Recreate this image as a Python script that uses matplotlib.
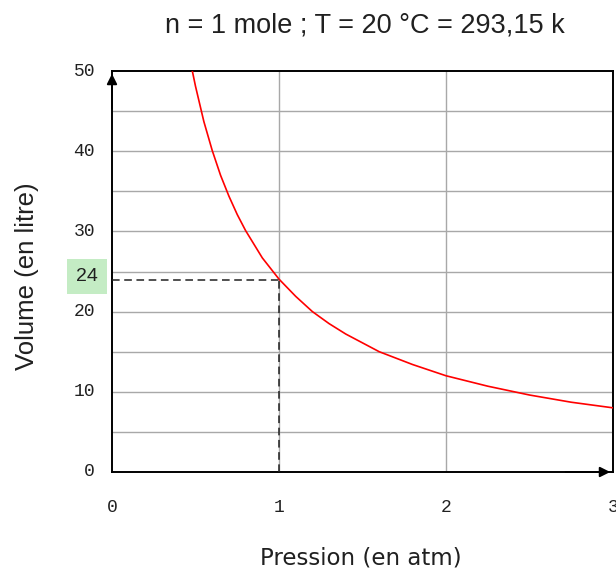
import matplotlib
matplotlib.use("Agg")
import matplotlib.pyplot as plt

# Data (V in litres vs P in atm)
pressure = [0.48, 0.5, 0.55, 0.6, 0.65, 0.7, 0.75, 0.8, 0.9, 1.0, 1.1, 1.2, 1.3, 1.4,
            1.6, 1.8, 2.0, 2.25, 2.5, 2.75, 3.0]
volume = [50.1, 48.1, 43.7, 40.1, 37.0, 34.4, 32.1, 30.1, 26.7, 24.05, 21.9, 20.0, 18.5,
          17.2, 15.0, 13.4, 12.0, 10.7, 9.6, 8.7, 8.0]
x_ticks = [0, 1, 2, 3]
y_ticks = [0, 10, 20, 30, 40, 50]
y_grid = [5, 10, 15, 20, 25, 30, 35, 40, 45]
marker_p = 1.0
marker_v = 24
title = "n = 1 mole ; T = 20 °C = 293,15 k"

W, H = 616, 574
fig = plt.figure(figsize=(W/100, H/100), dpi=100)
ax = fig.add_axes([112/W, 102/H, 501/W, 401/H])
ax.set_xlim(0, 3)
ax.set_ylim(0, 50)

for g in y_grid:
    ax.axhline(g, color="#a8a8a8", lw=1.0, zorder=1)
for g in x_ticks[1:-1]:
    ax.axvline(g, color="#a8a8a8", lw=1.0, zorder=1)

ax.plot(pressure, volume, color="#ff0000", lw=1.2, zorder=3)

ax.plot([0, marker_p], [marker_v, marker_v], color="#202020", lw=1.1,
        ls=(0, (5, 3)), zorder=4)
ax.plot([marker_p, marker_p], [0, marker_v], color="#202020", lw=1.1,
        ls=(0, (5, 3)), zorder=4)

for s in ax.spines.values():
    s.set_color("black")
    s.set_linewidth(1.4)

ax.set_xticks(x_ticks)
ax.set_yticks(y_ticks)
ax.tick_params(length=0, pad=0)
ax.set_xticklabels([])
ax.set_yticklabels([])
mono = "Liberation Mono"
for v in y_ticks:
    ax.text(-17/501, v, str(v), ha="right", va="center", fontsize=13,
            family=mono, color="#202020", transform=ax.get_yaxis_transform())
for v in x_ticks:
    ax.text(v, -35/401, str(v), ha="center", va="center", fontsize=13,
            family=mono, color="#202020", transform=ax.get_xaxis_transform())

# arrows on axes
ax.annotate("", xy=(0, 1.0), xytext=(0, 0.9), xycoords="axes fraction",
            arrowprops=dict(arrowstyle="-|>", color="black", lw=1.4,
                            mutation_scale=15), zorder=6, annotation_clip=False)
ax.annotate("", xy=(1.0, 0), xytext=(0.9, 0), xycoords="axes fraction",
            arrowprops=dict(arrowstyle="-|>", color="black", lw=1.4,
                            mutation_scale=15), zorder=6, annotation_clip=False)

ax.text(-25/501, marker_v + 0.4, str(marker_v), ha="center", va="center", fontsize=14,
        family="Liberation Sans", color="#202020",
        transform=ax.get_yaxis_transform(),
        bbox=dict(boxstyle="square,pad=0.45", fc="#c4ecc4", ec="none"))

fig.text(365/W, 1 - 25/H, title, ha="center", va="center", fontsize=19.5,
         family="Liberation Sans", color="#202020")
fig.text(361/W, 1 - 558/H, "Pression (en atm)", ha="center", va="center",
         fontsize=16.5, family="DejaVu Sans", color="#202020")
fig.text(27/W, 1 - 276/H, "Volume (en litre)", ha="center", va="center",
         fontsize=18.5, family="Liberation Sans", color="#202020", rotation=90)

fig.savefig("out.png", dpi=100, facecolor="white")
